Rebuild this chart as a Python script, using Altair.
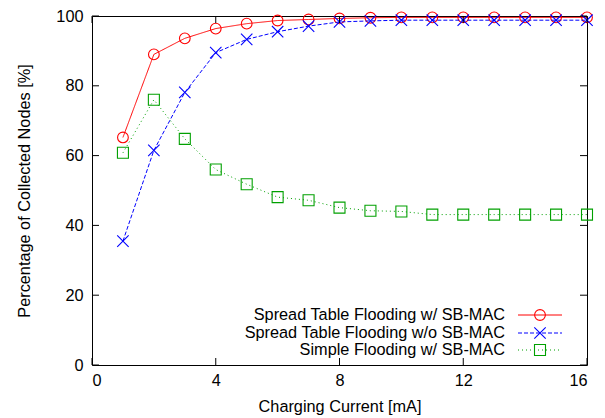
import altair as alt
import pandas as pd

# ---- data ----
current = [1, 2, 3, 4, 5, 6, 7, 8, 9, 10, 11, 12, 13, 14, 15, 16]
spread_sb = [65.2, 89.0, 93.6, 96.4, 97.8, 98.7, 99.0, 99.3, 99.5, 99.6, 99.6, 99.6, 99.6, 99.6, 99.6, 99.6]
spread_nosb = [35.5, 61.5, 78.1, 89.5, 93.3, 95.5, 97.1, 98.3, 98.6, 98.8, 98.8, 98.8, 98.8, 98.8, 98.8, 98.8]
simple_sb = [60.8, 76.0, 64.8, 56.0, 51.8, 48.1, 47.2, 45.1, 44.2, 44.0, 43.1, 43.1, 43.1, 43.1, 43.1, 43.1]

series_names = [
    "Spread Table Flooding w/ SB-MAC",
    "Spread Table Flooding w/o SB-MAC",
    "Simple Flooding w/ SB-MAC",
]
series_values = [spread_sb, spread_nosb, simple_sb]
series_colors = ["#ff0000", "#0000ff", "#00a000"]
series_dash = [[1, 0], [4, 2], [1, 3]]
series_shape = ["circle", "M-1,-1L1,1M-1,1L1,-1", "square"]
series_size = [115, 130, 121]

x_ticks = [0, 4, 8, 12, 16]
y_ticks = [0, 20, 40, 60, 80, 100]

W, H = 495, 349
FONT = "Liberation Sans"
FS = 16.3

xs = alt.Scale(domain=[0, 16], nice=False, zero=False)
ys = alt.Scale(domain=[0, 100], nice=False, zero=False)
x_axis = alt.Axis(values=x_ticks, format="d", titleY=41, titleBaseline="middle")
y_axis = alt.Axis(values=y_ticks, format="d", titleX=-68, titleY=H / 2,
                  titleBaseline="middle", titleAlign="center")
X_T = "Charging Current [mA]"
Y_T = "Percentage of Collected Nodes [%]"


def X(field="x"):
    return alt.X(f"{field}:Q", scale=xs, axis=x_axis, title=X_T)


def Y(field="y"):
    return alt.Y(f"{field}:Q", scale=ys, axis=y_axis, title=Y_T)


layers = []

# data series
for name, vals, col, dash, shp, sz in zip(series_names, series_values,
                                           series_colors, series_dash,
                                           series_shape, series_size):
    df = pd.DataFrame({"x": current, "y": vals})
    base = alt.Chart(df).encode(x=X(), y=Y())
    layers.append(base.mark_line(color=col, strokeWidth=1, strokeDash=dash))
    layers.append(base.mark_point(shape=shp, size=sz, filled=False,
                                  color=col, strokeWidth=1.1, opacity=1))

# inward tick marks (gnuplot style), positioned through the scales
xt = pd.DataFrame({"x": x_ticks})
yt = pd.DataFrame({"y": y_ticks})
for y0, y1 in [(H, H - 7), (0, 7)]:
    layers.append(
        alt.Chart(xt).mark_rule(color="black", strokeWidth=1).encode(
            x=X(), y=alt.value(y0), y2=alt.value(y1),
        )
    )
for x0, x1 in [(0, 7), (W, W - 7)]:
    layers.append(
        alt.Chart(yt).mark_rule(color="black", strokeWidth=1).encode(
            y=Y(), x=alt.value(x0), x2=alt.value(x1),
        )
    )

# custom legend (gnuplot style: text, then sample line with marker)
legend_rows = [299, 317, 334]
one = pd.DataFrame({"a": [0]})
for name, col, dash, shp, sz, ry in zip(series_names, series_colors,
                                        series_dash, series_shape,
                                        series_size, legend_rows):
    layers.append(
        alt.Chart(one).mark_text(align="right", baseline="middle",
                                 fontSize=FS, font=FONT, color="black",
                                 text=name).encode(
            x=alt.value(413), y=alt.value(ry))
    )
    layers.append(
        alt.Chart(one).mark_rule(color=col, strokeWidth=1,
                                 strokeDash=dash).encode(
            x=alt.value(426), x2=alt.value(470), y=alt.value(ry))
    )
    layers.append(
        alt.Chart(one).mark_point(shape=shp, size=sz, filled=False,
                                  color=col, strokeWidth=1.1,
                                  opacity=1).encode(
            x=alt.value(448), y=alt.value(ry))
    )

chart = alt.layer(*layers).properties(
    width=W, height=H,
    background="white",
    autosize=alt.AutoSizeParams(type="none"),
    padding={"left": 84, "top": 8, "right": 10, "bottom": 52},
).configure_view(
    stroke="black", strokeWidth=1
).configure_axis(
    grid=False, domain=False, ticks=True, tickSize=0,
    labelFont=FONT, titleFont=FONT, labelFontSize=FS, titleFontSize=FS,
    labelColor="black", titleColor="black", titleFontWeight="normal",
).configure_axisX(
    labelPadding=7
).configure_axisY(
    labelPadding=9
)

chart.save("out.html", embed_options={"renderer": "svg", "actions": False})
